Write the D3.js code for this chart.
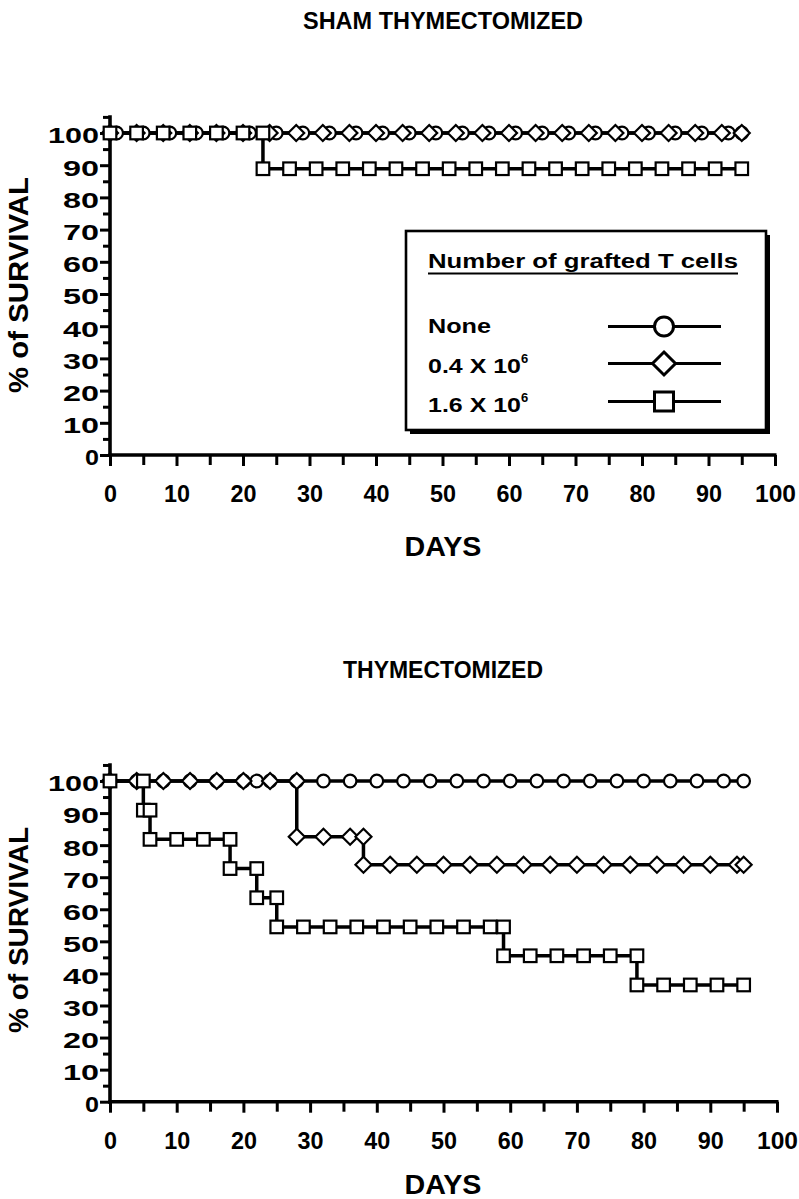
<!DOCTYPE html>
<html><head><meta charset="utf-8">
<script src="https://cdn.jsdelivr.net/npm/d3@7"></script>
<style>
body{margin:0;background:#fff}
svg text{font-family:"Liberation Sans",Arial,Helvetica,sans-serif;font-weight:bold;fill:#000}
</style>
</head><body>
<svg id="c" width="799" height="1199"></svg>
<script>
// ---------- DATA ----------
const xTicks = [0,10,20,30,40,50,60,70,80,90,100];
const yTicks = [0,10,20,30,40,50,60,70,80,90,100];
const panelTitles = ["SHAM THYMECTOMIZED","THYMECTOMIZED"];
const xTitle = "DAYS";
const yTitle = "% of SURVIVAL";
const legendTitle = "Number of grafted T cells";
const legendLabels = ["None","0.4 X 10","1.6 X 10"];
const legendSup = ["","6","6"];

// Sham thymectomized: [day, % survival]
const shamNone = [[0,100],[1,100],[5,100],[9,100],[13,100],[17,100],[21,100],[25,100],[29,100],[33,100],[37,100],[41,100],[45,100],[49,100],[53,100],[57,100],[61,100],[65,100],[69,100],[73,100],[77,100],[81,100],[85,100],[89,100],[93,100],[95,100]];
const shamLow = [[0,100],[4,100],[8,100],[12,100],[16,100],[20,100],[24,100],[28,100],[32,100],[36,100],[40,100],[44,100],[48,100],[52,100],[56,100],[60,100],[64,100],[68,100],[72,100],[76,100],[80,100],[84,100],[88,100],[92,100],[95,100]];
const shamHigh = [[0,100],[4,100],[8,100],[12,100],[16,100],[20,100],[23,100],[23,88.9],[27,88.9],[31,88.9],[35,88.9],[39,88.9],[43,88.9],[47,88.9],[51,88.9],[55,88.9],[59,88.9],[63,88.9],[67,88.9],[71,88.9],[75,88.9],[79,88.9],[83,88.9],[87,88.9],[91,88.9],[95,88.9]];

// Thymectomized
const thyNone = [[0,100],[4,100],[8,100],[12,100],[16,100],[20,100],[22,100],[24,100],[28,100],[32,100],[36,100],[40,100],[44,100],[48,100],[52,100],[56,100],[60,100],[64,100],[68,100],[72,100],[76,100],[80,100],[84,100],[88,100],[92,100],[95,100]];
const thyLow = [[0,100],[4,100],[8,100],[12,100],[16,100],[20,100],[24,100],[28,100],[28,82.6],[32,82.6],[36,82.6],[38,82.6],[38,73.9],[42,73.9],[46,73.9],[50,73.9],[54,73.9],[58,73.9],[62,73.9],[66,73.9],[70,73.9],[74,73.9],[78,73.9],[82,73.9],[86,73.9],[90,73.9],[94,73.9],[95,73.9]];
const thyHigh = [[0,100],[5,100],[5,90.9],[6,90.9],[6,81.8],[10,81.8],[14,81.8],[18,81.8],[18,72.7],[22,72.7],[22,63.6],[25,63.6],[25,54.5],[29,54.5],[33,54.5],[37,54.5],[41,54.5],[45,54.5],[49,54.5],[53,54.5],[57,54.5],[59,54.5],[59,45.5],[63,45.5],[67,45.5],[71,45.5],[75,45.5],[79,45.5],[79,36.4],[83,36.4],[87,36.4],[91,36.4],[95,36.4]];

// ---------- DRAW ----------
const svg = d3.select("#c");

function label(g, x, y, s, size, len, anchor){
  const t = g.append("text").attr("x",x).attr("y",y).attr("font-size",size)
    .attr("text-anchor",anchor||"start").text(s);
  if(len){ t.attr("textLength",len).attr("lengthAdjust","spacingAndGlyphs"); }
  return t;
}

function marker(g, type, cx, cy, r){
  if(type==="circle"){
    g.append("circle").attr("cx",cx).attr("cy",cy).attr("r",r)
      .attr("fill","#fff").attr("stroke","#000").attr("stroke-width",2.2);
  } else if(type==="diamond"){
    g.append("path").attr("d",`M${cx},${cy-r}L${cx+r},${cy}L${cx},${cy+r}L${cx-r},${cy}Z`)
      .attr("fill","#fff").attr("stroke","#000").attr("stroke-width",2.2).attr("stroke-linejoin","miter");
  } else {
    g.append("rect").attr("x",cx-r).attr("y",cy-r).attr("width",2*r).attr("height",2*r)
      .attr("fill","#fff").attr("stroke","#000").attr("stroke-width",2.2);
  }
}

const markerSize = {circle:6.3, diamond:8, square:6.3};

function panel(cfg){
  const x = d3.scaleLinear().domain([0,100]).range([cfg.x0, cfg.x1]);
  const y = d3.scaleLinear().domain([0,100]).range([cfg.y0, cfg.y1]);
  const g = svg.append("g");

  // title
  label(g, 443, cfg.titleY, cfg.title, 23, cfg.titleLen, "middle");

  // y axis
  const yMinor = [5,15,25,35,45,55,65,75,85,95,105];
  const ya = g.append("g").attr("transform",`translate(${cfg.x0},0)`);
  ya.call(d3.axisLeft(y).tickValues(yTicks).tickSize(10).tickPadding(1).tickFormat(d3.format("d")));
  ya.select(".domain").remove();
  ya.selectAll(".tick line").attr("stroke","#000").attr("stroke-width",3);
  ya.selectAll(".tick text").attr("font-size",22).attr("font-family",null).attr("dy","0.45em")
    .attr("textLength",d=>d>=100?51:(d>=10?36:14)).attr("lengthAdjust","spacingAndGlyphs");
  const ym = g.append("g").attr("transform",`translate(${cfg.x0},0)`);
  ym.call(d3.axisLeft(y).tickValues(yMinor).tickSize(7).tickFormat(""));
  ym.select(".domain").remove();
  ym.selectAll(".tick line").attr("stroke","#000").attr("stroke-width",3);
  g.append("line").attr("x1",cfg.x0).attr("x2",cfg.x0).attr("y1",y(0)+2).attr("y2",y(105.5))
    .attr("stroke","#000").attr("stroke-width",3.6);

  // x axis
  const xMinor = [5,15,25,35,45,55,65,75,85,95];
  const xa = g.append("g").attr("transform",`translate(0,${cfg.y0})`);
  xa.call(d3.axisBottom(x).tickValues(xTicks).tickSize(11).tickPadding(20).tickFormat(d3.format("d")));
  xa.select(".domain").remove();
  xa.selectAll(".tick line").attr("stroke","#000").attr("stroke-width",3);
  xa.selectAll(".tick text").attr("font-size",23).attr("font-family",null)
    .attr("textLength",d=>d>=100?41:(d>=10?26:13)).attr("lengthAdjust","spacingAndGlyphs");
  const xm = g.append("g").attr("transform",`translate(0,${cfg.y0})`);
  xm.call(d3.axisBottom(x).tickValues(xMinor).tickSize(10).tickFormat(""));
  xm.select(".domain").remove();
  xm.selectAll(".tick line").attr("stroke","#000").attr("stroke-width",3);
  g.append("line").attr("x1",x(0)-1.5).attr("x2",x(100)+1.5).attr("y1",cfg.y0).attr("y2",cfg.y0)
    .attr("stroke","#000").attr("stroke-width",3.6);

  // axis titles
  label(g, 443, cfg.daysY, xTitle, 27, 77, "middle");
  label(g, 0, 0, yTitle, 28, cfg.yTitleLen, "middle")
    .attr("transform",`translate(28,${cfg.yTitleC}) rotate(-90)`);

  // series
  const line = d3.line().x(d=>x(d[0])).y(d=>y(d[1]));
  cfg.series.forEach(s=>{
    g.append("path").attr("d",line(s.data)).attr("fill","none")
      .attr("stroke","#000").attr("stroke-width",3.5).attr("stroke-linejoin","miter");
  });
  cfg.series.forEach(s=>{
    s.data.forEach(d=>marker(g, s.type, x(d[0]), y(d[1]), markerSize[s.type]));
  });
  return g;
}

panel({title:panelTitles[0], titleY:29, titleLen:280, x0:110, x1:775, y0:455, y1:133,
  daysY:556, yTitleC:285, yTitleLen:216,
  series:[{type:"circle",data:shamNone},{type:"diamond",data:shamLow},{type:"square",data:shamHigh}]});

panel({title:panelTitles[1], titleY:678, titleLen:200, x0:110, x1:777, y0:1101.7, y1:781,
  daysY:1194, yTitleC:930, yTitleLen:206,
  series:[{type:"circle",data:thyNone},{type:"diamond",data:thyLow},{type:"square",data:thyHigh}]});

// ---------- LEGEND ----------
const lg = svg.append("g");
lg.append("rect").attr("x",410).attr("y",235).attr("width",360).attr("height",199).attr("fill","#000");
lg.append("rect").attr("x",406).attr("y",231).attr("width",360).attr("height",199)
  .attr("fill","#fff").attr("stroke","#000").attr("stroke-width",2.6);
label(lg, 428, 268, legendTitle, 21, 310);
lg.append("line").attr("x1",428).attr("x2",738).attr("y1",273.5).attr("y2",273.5)
  .attr("stroke","#000").attr("stroke-width",1.8);
const legTypes = ["circle","diamond","square"];
const legTextY = [333,373,412];
const legLineY = [326.5,363.5,401.5];
const legLen = [63,93,93];
const legMarkR = {circle:9.5, diamond:11.5, square:9.5};
legendLabels.forEach((s,i)=>{
  label(lg, 428, legTextY[i], s, 21, legLen[i]);
  if(legendSup[i]) label(lg, 521, legTextY[i]-10, legendSup[i], 13);
  lg.append("line").attr("x1",608).attr("x2",721).attr("y1",legLineY[i]).attr("y2",legLineY[i])
    .attr("stroke","#000").attr("stroke-width",3.2);
  const g2 = lg.append("g");
  marker(g2, legTypes[i], 664, legLineY[i], legMarkR[legTypes[i]]);
  g2.selectAll("*").attr("stroke-width",3);
});
</script>
</body></html>
